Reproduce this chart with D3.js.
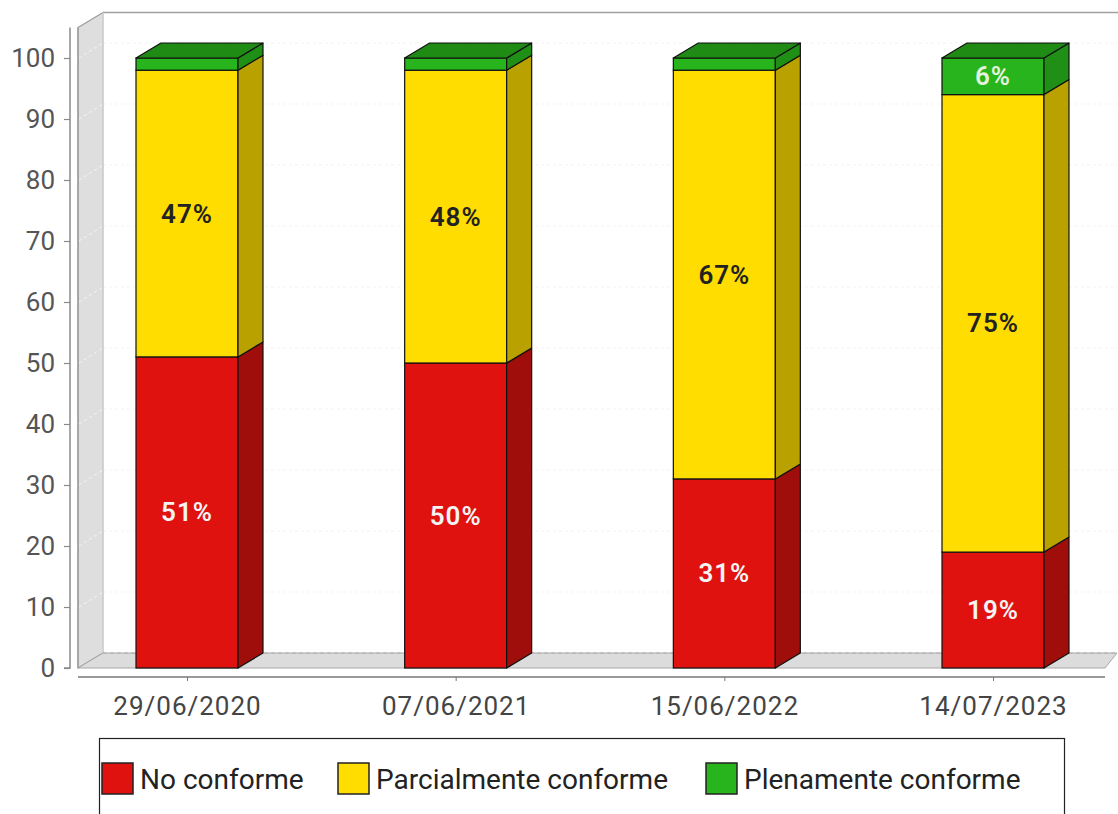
<!DOCTYPE html>
<html>
<head>
<meta charset="utf-8">
<script src="https://cdn.jsdelivr.net/npm/d3@7"></script>
<style>
  html, body { margin: 0; padding: 0; background: #fff; }
  svg { display: block; }
  text { font-family: Roboto, "Noto Sans", sans-serif; }
</style>
</head>
<body>
<svg id="chart" width="1118" height="814"></svg>
<script>
// ---- data ----
const categories = ["29/06/2020", "07/06/2021", "15/06/2022", "14/07/2023"];
const seriesNames = ["No conforme", "Parcialmente conforme", "Plenamente conforme"];
const noConforme = [51, 50, 31, 19];
const parcialmente = [47, 48, 67, 75];
const plenamente = [2, 2, 2, 6];
const yTicks = [0, 10, 20, 30, 40, 50, 60, 70, 80, 90, 100];

// ---- styles ----
const colors = {
  front: ["#e0120f", "#ffdd00", "#28b41c"],
  side:  ["#a00e0b", "#b9a100", "#1f8f15"],
  top:   ["#c0100d", "#d9bc00", "#1f8a14"],
  label: ["#f4f4f4", "#222222", "#e3f3dc"]
};
const DX = 25, DY = -15;
const barW = 102;

const svg = d3.select("#chart");
const y = d3.scaleLinear().domain([0, 100]).range([668, 58]);
const x = d3.scalePoint().domain(categories).range([187, 993]);

const wallL = 78, wallR = 1105, floorY = y(0);

// ---- walls ----
svg.append("polygon")
  .attr("points", [[wallL + DX, 12.5], [1118, 12.5], [1118, floorY + DY], [wallL + DX, floorY + DY]].map(p => p.join(",")).join(" "))
  .attr("fill", "#fff");
svg.append("g").selectAll("line").data(yTicks.slice(1)).join("line")
  .attr("x1", wallL + DX).attr("x2", 1118)
  .attr("y1", d => y(d) + DY).attr("y2", d => y(d) + DY)
  .attr("stroke", "#f3f3f3").attr("stroke-dasharray", "3,3");
svg.append("line")
  .attr("x1", wallL + DX).attr("x2", 1118)
  .attr("y1", 12.5).attr("y2", 12.5)
  .attr("stroke", "#a0a0a0").attr("stroke-width", 1.5);

// left wall
svg.append("polygon")
  .attr("points", [[wallL, 27.5], [wallL + DX, 12.5], [wallL + DX, floorY + DY], [wallL, floorY]].map(p => p.join(",")).join(" "))
  .attr("fill", "#dedede").attr("stroke", "#9a9a9a").attr("stroke-width", 1.2);
svg.append("line")
  .attr("x1", wallL + DX).attr("x2", wallL + DX).attr("y1", 12.5).attr("y2", floorY + DY)
  .attr("stroke", "#e8e8e8");
svg.append("g").selectAll("line").data(yTicks.slice(1)).join("line")
  .attr("x1", wallL + 1).attr("x2", wallL + DX)
  .attr("y1", d => y(d)).attr("y2", d => y(d) + DY)
  .attr("stroke", "#f6f6f6").attr("stroke-dasharray", "3,3");

// floor
svg.append("polygon")
  .attr("points", [[wallL, floorY], [wallL + DX, floorY + DY], [1117, floorY + DY], [wallR, floorY]].map(p => p.join(",")).join(" "))
  .attr("fill", "#dcdcdc").attr("stroke", "#a8a8a8").attr("stroke-width", 1);
svg.append("line")
  .attr("x1", wallL + DX).attr("x2", 1117).attr("y1", floorY + DY).attr("y2", floorY + DY)
  .attr("stroke", "#b0b0b0").attr("stroke-dasharray", "4,3");
svg.append("line")
  .attr("x1", wallL).attr("x2", wallL).attr("y1", 27.5).attr("y2", floorY)
  .attr("stroke", "#9a9a9a").attr("stroke-width", 1.2);

// ---- y axis ----
const yAxis = d3.axisLeft(y).tickValues(yTicks).tickSize(6).tickPadding(9);
const gy = svg.append("g").attr("transform", "translate(70,0)").call(yAxis);
gy.select(".domain").attr("stroke", "#8a8a8a").attr("stroke-width", 1.5).attr("d", `M-6,${y(0)}H0V27.5`);
gy.selectAll(".tick line").attr("stroke", "#8a8a8a").attr("stroke-width", 1.2);
gy.selectAll(".tick text").attr("fill", "#555").attr("font-size", 26);

// ---- x axis ----
const xAxis = d3.axisBottom(x).tickSize(4);
const gx = svg.append("g").attr("transform", "translate(0,677)").call(xAxis);
gx.select(".domain").attr("stroke", "#777").attr("stroke-width", 1.5).attr("d", `M${wallL},0H${wallR}`);
gx.selectAll(".tick line").attr("stroke", "#777");
gx.selectAll(".tick text").attr("fill", "#444").attr("font-size", 26)
  .attr("letter-spacing", "1px")
  .attr("y", 29).attr("dy", null).attr("dominant-baseline", "central");

// ---- bars ----
const series = [noConforme, parcialmente, plenamente];
const gBars = svg.append("g");
categories.forEach((cat, i) => {
  const cx = x(cat);
  const x0 = cx - barW / 2, x1 = cx + barW / 2;
  let acc = 0;
  series.forEach((vals, s) => {
    const v = vals[i];
    const yb = y(acc), yt = y(acc + v);
    acc += v;
    gBars.append("rect")
      .attr("x", x0).attr("y", yt).attr("width", barW).attr("height", yb - yt)
      .attr("fill", colors.front[s]).attr("stroke", "#111").attr("stroke-width", 1.2);
    gBars.append("polygon")
      .attr("points", [[x1, yb], [x1 + DX, yb + DY], [x1 + DX, yt + DY], [x1, yt]].map(p => p.join(",")).join(" "))
      .attr("fill", colors.side[s]).attr("stroke", "#111").attr("stroke-width", 1.2).attr("stroke-linejoin", "round");
    if (s === series.length - 1) {
      gBars.append("polygon")
        .attr("points", [[x0, yt], [x0 + DX, yt + DY], [x1 + DX, yt + DY], [x1, yt]].map(p => p.join(",")).join(" "))
        .attr("fill", colors.top[s]).attr("stroke", "#111").attr("stroke-width", 1.2).attr("stroke-linejoin", "round");
    }
    if (v >= 5) {
      gBars.append("text")
        .attr("x", cx).attr("y", (yb + yt) / 2)
        .attr("text-anchor", "middle").attr("dominant-baseline", "central")
        .attr("font-size", 26).attr("font-weight", 600)
        .attr("letter-spacing", "1px")
        .attr("fill", colors.label[s])
        .text(v + "%");
    }
  });
});

// ---- legend ----
const lg = svg.append("g");
lg.append("rect").attr("x", 99.5).attr("y", 738.5).attr("width", 965).attr("height", 100)
  .attr("fill", "#fff").attr("stroke", "#222").attr("stroke-width", 1.2);
const legendX = [102, 338, 706];
seriesNames.forEach((name, s) => {
  lg.append("rect").attr("x", legendX[s]).attr("y", 763).attr("width", 31).attr("height", 31)
    .attr("fill", colors.front[s]).attr("stroke", "#222").attr("stroke-width", 1.5);
  lg.append("text").attr("x", legendX[s] + 38).attr("y", 779)
    .attr("dominant-baseline", "central")
    .attr("font-size", 28).attr("fill", "#222").text(name);
});
</script>
</body>
</html>
